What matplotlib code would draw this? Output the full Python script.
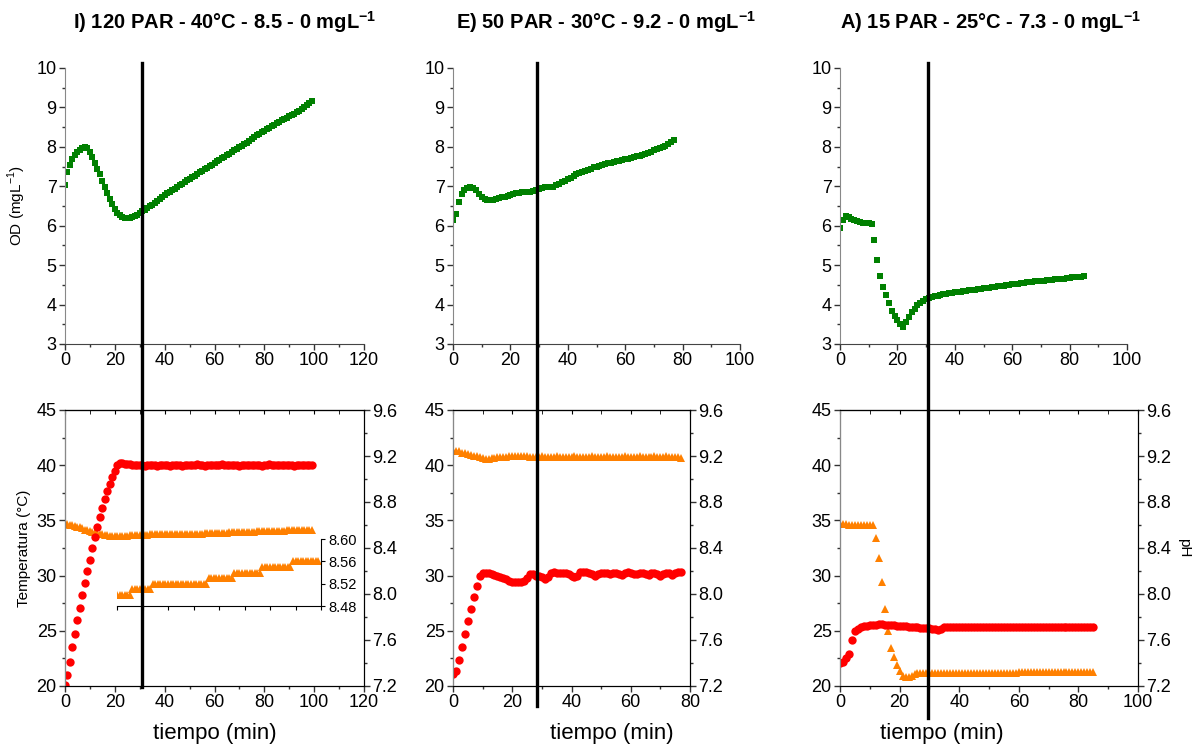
import numpy as np
import matplotlib
matplotlib.use("Agg")
import matplotlib.pyplot as plt
import matplotlib.transforms as mtransforms
from matplotlib.lines import Line2D
from matplotlib.ticker import MultipleLocator, FormatStrFormatter

plt.rcParams["font.family"] = ["Liberation Sans", "DejaVu Sans"]
plt.rcParams["mathtext.fontset"] = "custom"
plt.rcParams["mathtext.rm"] = "Liberation Sans"
plt.rcParams["mathtext.bf"] = "Liberation Sans:bold"

# ---- data (one sample per minute) ----
TITLES = [r"I) 120 PAR - 40°C - 8.5 - 0 mgL$^{\mathbf{-1}}$",
          r"E) 50 PAR - 30°C - 9.2 - 0 mgL$^{\mathbf{-1}}$",
          r"A) 15 PAR - 25°C - 7.3 - 0 mgL$^{\mathbf{-1}}$"]

OD_I = [7.03, 7.35, 7.55, 7.70, 7.80, 7.88, 7.93, 7.97, 7.99, 7.98,
        7.88, 7.75, 7.60, 7.45, 7.30, 7.14, 6.98, 6.83, 6.68, 6.54,
        6.42, 6.32, 6.26, 6.22, 6.20, 6.19, 6.20, 6.22, 6.25, 6.28,
        6.32, 6.37, 6.41, 6.45, 6.49, 6.53, 6.58, 6.63, 6.68, 6.73,
        6.78, 6.82, 6.86, 6.90, 6.94, 6.98, 7.02, 7.06, 7.10, 7.15,
        7.19, 7.23, 7.27, 7.31, 7.35, 7.39, 7.43, 7.47, 7.51, 7.55,
        7.59, 7.63, 7.67, 7.71, 7.75, 7.79, 7.83, 7.87, 7.91, 7.95,
        7.99, 8.03, 8.07, 8.11, 8.16, 8.20, 8.24, 8.29, 8.33, 8.37,
        8.41, 8.45, 8.49, 8.53, 8.56, 8.60, 8.63, 8.67, 8.70, 8.74,
        8.77, 8.81, 8.84, 8.88, 8.92, 8.96, 9.01, 9.06, 9.11, 9.16]
TEMP_I = [20.1, 21.0, 22.2, 23.5, 24.7, 26.0, 27.1, 28.2, 29.3, 30.4,
          31.4, 32.5, 33.5, 34.4, 35.3, 36.1, 36.9, 37.7, 38.3, 38.9,
          39.5, 40.0, 40.2, 40.2, 40.1, 40.1, 40.1, 40.0, 40.0, 40.0,
          40.0, 40.0, 39.95, 40.0, 40.0, 40.05, 40.0, 39.95, 40.0, 40.05,
          40.0, 40.0, 39.95, 40.0, 40.05, 40.05, 40.0, 39.95, 40.0, 40.05,
          40.0, 40.0, 40.05, 40.1, 40.05, 40.0, 39.95, 40.0, 40.05, 40.05,
          40.0, 40.0, 40.05, 40.1, 40.05, 40.0, 40.0, 40.05, 40.05, 40.0,
          39.95, 40.0, 40.05, 40.05, 40.0, 40.0, 40.05, 40.05, 40.0, 39.95,
          40.0, 40.05, 40.1, 40.05, 40.0, 40.0, 40.05, 40.05, 40.0, 40.0,
          40.05, 40.0, 39.95, 40.0, 40.05, 40.05, 40.0, 40.0, 40.0, 40.0]
PH_I = [8.61, 8.61, 8.60, 8.60, 8.59, 8.58, 8.58, 8.57, 8.56, 8.56,
        8.55, 8.54, 8.54, 8.53, 8.52, 8.52, 8.51, 8.51, 8.50, 8.50,
        8.50, 8.50, 8.50, 8.50, 8.50, 8.50, 8.51, 8.51, 8.51, 8.51,
        8.51, 8.51, 8.51, 8.51, 8.52, 8.52, 8.52, 8.52, 8.52, 8.52,
        8.52, 8.52, 8.52, 8.52, 8.52, 8.52, 8.52, 8.52, 8.52, 8.52,
        8.52, 8.52, 8.52, 8.52, 8.52, 8.52, 8.53, 8.53, 8.53, 8.53,
        8.53, 8.53, 8.53, 8.53, 8.53, 8.53, 8.54, 8.54, 8.54, 8.54,
        8.54, 8.54, 8.54, 8.54, 8.54, 8.54, 8.54, 8.55, 8.55, 8.55,
        8.55, 8.55, 8.55, 8.55, 8.55, 8.55, 8.55, 8.55, 8.55, 8.56,
        8.56, 8.56, 8.56, 8.56, 8.56, 8.56, 8.56, 8.56, 8.56, 8.56]

OD_E = [6.14, 6.30, 6.60, 6.80, 6.90, 6.95, 6.97, 6.95, 6.90, 6.80,
        6.72, 6.67, 6.65, 6.65, 6.66, 6.68, 6.70, 6.72, 6.74, 6.76,
        6.78, 6.80, 6.82, 6.83, 6.85, 6.86, 6.86, 6.85, 6.87, 6.90,
        6.92, 6.95, 6.97, 6.98, 6.98, 6.99, 7.02, 7.06, 7.10, 7.14,
        7.18, 7.22, 7.26, 7.30, 7.33, 7.36, 7.39, 7.42, 7.45, 7.48,
        7.50, 7.52, 7.54, 7.56, 7.58, 7.60, 7.61, 7.63, 7.64, 7.66,
        7.68, 7.70, 7.72, 7.74, 7.76, 7.78, 7.80, 7.82, 7.85, 7.88,
        7.92, 7.95, 7.98, 8.00, 8.03, 8.07, 8.12, 8.18]
TEMP_E = [21.1, 21.4, 22.4, 23.5, 24.7, 25.9, 27.0, 28.1, 29.1, 30.0,
          30.2, 30.25, 30.2, 30.15, 30.05, 29.95, 29.85, 29.75, 29.65, 29.55,
          29.45, 29.4, 29.4, 29.45, 29.55, 29.8, 30.1, 30.15, 30.0, 29.95,
          29.85, 29.7, 29.85, 30.25, 30.3, 30.2, 30.2, 30.25, 30.2, 30.15,
          30.0, 29.85, 30.0, 30.3, 30.35, 30.3, 30.25, 30.1, 29.95, 30.15,
          30.25, 30.25, 30.2, 30.15, 30.25, 30.25, 30.1, 30.05, 30.2, 30.3,
          30.25, 30.1, 30.15, 30.25, 30.2, 30.1, 30.05, 30.2, 30.25, 30.15,
          30.0, 30.15, 30.25, 30.2, 30.05, 30.2, 30.3, 30.3]
PH_E = [9.24, 9.24, 9.24, 9.23, 9.23, 9.22, 9.21, 9.20, 9.20, 9.19,
        9.18, 9.17, 9.17, 9.18, 9.18, 9.19, 9.19, 9.19, 9.19, 9.20,
        9.20, 9.20, 9.20, 9.20, 9.20, 9.20, 9.19, 9.19, 9.19, 9.19,
        9.20, 9.19, 9.19, 9.19, 9.19, 9.20, 9.19, 9.19, 9.19, 9.19,
        9.19, 9.20, 9.19, 9.19, 9.19, 9.19, 9.19, 9.20, 9.19, 9.19,
        9.19, 9.19, 9.20, 9.19, 9.19, 9.19, 9.19, 9.19, 9.20, 9.19,
        9.19, 9.19, 9.19, 9.20, 9.19, 9.19, 9.19, 9.19, 9.20, 9.19,
        9.19, 9.19, 9.20, 9.19, 9.19, 9.19, 9.19, 9.18]

OD_A = [5.95, 6.15, 6.25, 6.22, 6.18, 6.15, 6.12, 6.10, 6.08, 6.07,
        6.06, 6.05, 5.65, 5.12, 4.72, 4.44, 4.24, 4.04, 3.84, 3.70,
        3.60, 3.50, 3.44, 3.55, 3.68, 3.80, 3.90, 3.98, 4.04, 4.09,
        4.13, 4.16, 4.19, 4.21, 4.23, 4.25, 4.27, 4.28, 4.29, 4.30,
        4.31, 4.32, 4.33, 4.34, 4.35, 4.36, 4.37, 4.38, 4.39, 4.40,
        4.41, 4.42, 4.43, 4.44, 4.45, 4.46, 4.47, 4.48, 4.49, 4.50,
        4.51, 4.52, 4.53, 4.54, 4.55, 4.56, 4.57, 4.58, 4.59, 4.59,
        4.60, 4.61, 4.62, 4.63, 4.63, 4.64, 4.65, 4.66, 4.66, 4.67,
        4.68, 4.69, 4.69, 4.70, 4.71, 4.72]
TEMP_A = [22.1, 22.15, 22.5, 22.9, 24.2, 24.95, 25.2, 25.35, 25.4, 25.45,
          25.5, 25.5, 25.55, 25.6, 25.6, 25.55, 25.5, 25.5, 25.5, 25.45,
          25.45, 25.45, 25.4, 25.35, 25.3, 25.3, 25.3, 25.25, 25.25, 25.25,
          25.25, 25.2, 25.15, 25.1, 25.15, 25.3, 25.3, 25.3, 25.3, 25.3,
          25.3, 25.3, 25.3, 25.3, 25.3, 25.3, 25.3, 25.3, 25.3, 25.3,
          25.3, 25.3, 25.3, 25.3, 25.3, 25.3, 25.3, 25.3, 25.3, 25.3,
          25.35, 25.35, 25.35, 25.35, 25.35, 25.35, 25.35, 25.35, 25.35, 25.35,
          25.35, 25.35, 25.35, 25.35, 25.35, 25.35, 25.35, 25.35, 25.35, 25.35,
          25.35, 25.35, 25.35, 25.35, 25.35, 25.35]
PH_A = [8.61, 8.61, 8.61, 8.60, 8.60, 8.60, 8.60, 8.60, 8.60, 8.60,
        8.60, 8.60, 8.49, 8.31, 8.10, 7.87, 7.68, 7.53, 7.45, 7.38,
        7.33, 7.29, 7.28, 7.28, 7.29, 7.30, 7.31, 7.31, 7.31, 7.31,
        7.31, 7.31, 7.31, 7.31, 7.31, 7.31, 7.31, 7.31, 7.31, 7.31,
        7.31, 7.31, 7.31, 7.31, 7.31, 7.31, 7.31, 7.31, 7.31, 7.31,
        7.31, 7.31, 7.31, 7.31, 7.31, 7.31, 7.31, 7.31, 7.31, 7.31,
        7.32, 7.32, 7.32, 7.32, 7.32, 7.32, 7.32, 7.32, 7.32, 7.32,
        7.32, 7.32, 7.32, 7.32, 7.32, 7.32, 7.32, 7.32, 7.32, 7.32,
        7.32, 7.32, 7.32, 7.32, 7.32, 7.32]

OD = [OD_I, OD_E, OD_A]
TEMP = [TEMP_I, TEMP_E, TEMP_A]
PH = [PH_I, PH_E, PH_A]
VLINE_T = [31, 28.5, 29.5]          # marker line, minutes (lower axes)
XMAX_TOP = [120, 100, 100]
XMAX_BOT = [120, 80, 100]

# ---- layout (pixels of a 1194x746 canvas) ----
W, H = 1194, 746
LEFT = [65, 453, 840]
W_TOP = [299, 287, 287]
W_BOT = [299, 237, 298]
VLINE_END = [687, 706, 718]
TITLE_X = [225, 606, 991]
XLAB_X = [215, 612, 942]

GREEN, RED, ORANGE = "#008000", "#ff0000", "#ff8000"
TICK_FS = 13


def style_ticks(ax):
    ax.tick_params(axis="both", which="major", direction="out", length=4,
                   width=1, labelsize=TICK_FS, color="#333333", pad=2)
    ax.tick_params(axis="both", which="minor", direction="out", length=2.5,
                   width=1, color="#333333")


fig = plt.figure(figsize=(W / 100, H / 100), dpi=100)

for i in range(3):
    t = np.arange(len(OD[i]))

    # upper panel: OD
    ax = fig.add_axes([LEFT[i] / W, 1 - 344 / H, W_TOP[i] / W, 276 / H])
    ax.plot(t, OD[i], "s", color=GREEN, ms=5, mew=0)
    ax.set_xlim(0, XMAX_TOP[i])
    ax.set_ylim(3, 10)
    ax.xaxis.set_major_locator(MultipleLocator(20))
    ax.xaxis.set_minor_locator(MultipleLocator(10))
    ax.yaxis.set_major_locator(MultipleLocator(1))
    ax.yaxis.set_minor_locator(MultipleLocator(0.5))
    for s in ("top", "right"):
        ax.spines[s].set_visible(False)
    ax.spines["left"].set_color("#888888")
    ax.spines["bottom"].set_color("#444444")
    style_ticks(ax)
    if i == 0:
        ax.set_ylabel(r"OD (mgL$^{-1}$)", fontsize=11, labelpad=6)

    # lower panel: temperature (left) and pH (right)
    axb = fig.add_axes([LEFT[i] / W, 1 - 686 / H, W_BOT[i] / W, 276 / H])
    axp = axb.twinx()
    axb.set_zorder(axp.get_zorder() + 1)
    axb.patch.set_visible(False)

    axp.plot(t, PH[i], "^", color=ORANGE, ms=6, mew=0)
    axb.plot(t, TEMP[i], "o", color=RED, ms=6, mew=0)

    axb.set_xlim(0, XMAX_BOT[i])
    axb.set_ylim(20, 45)
    axp.set_ylim(7.2, 9.6)
    axb.xaxis.set_major_locator(MultipleLocator(20))
    axb.xaxis.set_minor_locator(MultipleLocator(10))
    axb.yaxis.set_major_locator(MultipleLocator(5))
    axb.yaxis.set_minor_locator(MultipleLocator(2.5))
    axp.yaxis.set_major_locator(MultipleLocator(0.4))
    axp.yaxis.set_minor_locator(MultipleLocator(0.2))
    axp.yaxis.set_major_formatter(FormatStrFormatter("%.1f"))
    style_ticks(axb)
    style_ticks(axp)
    axb.spines["left"].set_color("#888888")
    top = axb.secondary_xaxis("top")
    top.xaxis.set_major_locator(MultipleLocator(20))
    top.xaxis.set_minor_locator(MultipleLocator(10))
    top.tick_params(which="both", direction="in", labeltop=False, length=3)
    if i == 0:
        axb.set_ylabel("Temperatura (°C)", fontsize=11, labelpad=4)
    if i == 2:
        axp.set_ylabel("pH", fontsize=11, rotation=270, labelpad=14)

    # zoomed pH inset for panel I
    if i == 0:
        ins = fig.add_axes([117 / W, 1 - 606 / H, 204 / W, 67 / H])
        ins.patch.set_visible(False)
        ins.plot(t[20:], PH_I[20:], "^", color=ORANGE, ms=5.5, mew=0)
        ins.set_xlim(20, 100)
        ins.set_ylim(8.48, 8.60)
        ins.set_yticks([8.48, 8.52, 8.56, 8.60])
        ins.yaxis.set_major_formatter(FormatStrFormatter("%.2f"))
        ins.xaxis.set_major_locator(MultipleLocator(10))
        ins.yaxis.tick_right()
        for s in ("top", "left"):
            ins.spines[s].set_visible(False)
        ins.tick_params(axis="x", labelbottom=False, length=3, direction="out")
        ins.tick_params(axis="y", labelsize=10.5, length=3, direction="out", pad=2)

    # vertical marker line spanning both panels
    tr = mtransforms.blended_transform_factory(axb.transData, fig.transFigure)
    fig.add_artist(Line2D([VLINE_T[i]] * 2, [1 - 63 / H, 1 - VLINE_END[i] / H],
                          transform=tr, color="black", lw=2.4, zorder=10))

    fig.text(TITLE_X[i] / W, 1 - 22 / H, TITLES[i], ha="center", va="center",
             fontsize=14.5, fontweight="bold")
    fig.text(XLAB_X[i] / W, 1 - 734 / H, "tiempo (min)", ha="center",
             va="center", fontsize=16)

fig.savefig("out.png", dpi=100)
